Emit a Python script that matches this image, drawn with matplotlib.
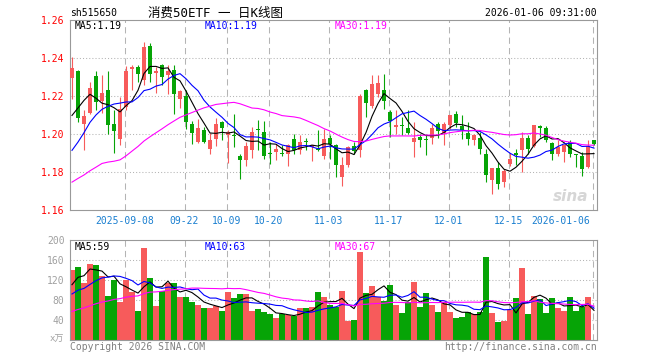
import numpy as np
import pandas as pd
import matplotlib
matplotlib.use('Agg')
import matplotlib.pyplot as plt

# ---- datos (sh515650, 2025-08-26 .. 2026-01-06) ----
OPEN = [1.2297, 1.2330, 1.2054, 1.2112, 1.2307, 1.2174, 1.2233, 1.2054, 1.1976, 1.2142,
        1.2344, 1.2353, 1.2286, 1.2461, 1.2321, 1.2361, 1.2309, 1.2339, 1.2186, 1.2198,
        1.2054, 1.1958, 1.2023, 1.1923, 1.1976, 1.2063, 1.1993, 1.1991, 1.1883, 1.1862,
        1.1914, 1.2023, 1.2011, 1.1900, 1.1905, 1.1900, 1.1896, 1.1976, 1.1918, 1.1960,
        1.1932, 1.1918, 1.1883, 1.1981, 1.1940, 1.1774, 1.1835, 1.1935, 1.1918, 1.2230,
        1.2146, 1.2209, 1.2233, 1.2116, 1.2037, 1.2044, 1.2033, 1.1958, 1.1984, 1.1976,
        1.1981, 1.2054, 1.2005, 1.2046, 1.2107, 1.2040, 1.2005, 1.1967, 1.1981, 1.1893,
        1.1756, 1.1823, 1.1747, 1.1844, 1.1900, 1.1914, 1.1981, 1.1935, 1.2042, 1.2033,
        1.1953, 1.1897, 1.1905, 1.1958, 1.1893, 1.1883, 1.1826, 1.1967]
HIGH = [1.2405, 1.2339, 1.2125, 1.2274, 1.2330, 1.2309, 1.2330, 1.2125, 1.2195, 1.2356,
        1.2361, 1.2361, 1.2484, 1.2481, 1.2353, 1.2370, 1.2361, 1.2361, 1.2230, 1.2230,
        1.2068, 1.2081, 1.2037, 1.2005, 1.2086, 1.2068, 1.2019, 1.2107, 1.1897, 1.1958,
        1.2037, 1.2075, 1.2068, 1.1958, 1.1949, 1.1940, 1.1949, 1.2002, 1.1993, 1.1981,
        1.1944, 1.2019, 1.2028, 1.1993, 1.1949, 1.1879, 1.1935, 1.1958, 1.2212, 1.2239,
        1.2309, 1.2309, 1.2314, 1.2125, 1.2125, 1.2090, 1.2125, 1.2063, 1.2002, 1.2002,
        1.2051, 1.2063, 1.2063, 1.2098, 1.2121, 1.2098, 1.2063, 1.2002, 1.2011, 1.1923,
        1.1823, 1.1853, 1.1818, 1.1900, 1.1923, 1.2011, 1.1993, 1.2046, 1.2046, 1.2040,
        1.1958, 1.1967, 1.1949, 1.1967, 1.1897, 1.1905, 1.1967, 1.1970]
LOW = [1.2186, 1.2063, 1.1918, 1.2107, 1.2125, 1.2111, 1.2002, 1.1900, 1.1940, 1.2125,
       1.2230, 1.2274, 1.2256, 1.2274, 1.2216, 1.2256, 1.2212, 1.2107, 1.2139, 1.2028,
       1.1949, 1.1953, 1.1953, 1.1897, 1.1935, 1.1967, 1.1847, 1.1932, 1.1765, 1.1830,
       1.1876, 1.1914, 1.1870, 1.1844, 1.1862, 1.1883, 1.1830, 1.1897, 1.1897, 1.1914,
       1.1858, 1.1909, 1.1870, 1.1870, 1.1774, 1.1725, 1.1826, 1.1897, 1.1879, 1.2090,
       1.2139, 1.2195, 1.2133, 1.1984, 1.2002, 1.1993, 1.2002, 1.1879, 1.1932, 1.1888,
       1.1949, 1.1981, 1.1940, 1.2028, 1.2037, 1.1976, 1.1940, 1.1940, 1.1897, 1.1748,
       1.1686, 1.1712, 1.1721, 1.1830, 1.1835, 1.1800, 1.1897, 1.1932, 1.1984, 1.1958,
       1.1862, 1.1883, 1.1853, 1.1879, 1.1826, 1.1777, 1.1823, 1.1940]
CLOSE = [1.2349, 1.2086, 1.2095, 1.2244, 1.2168, 1.2218, 1.2046, 1.2016, 1.2133, 1.2330,
         1.2353, 1.2318, 1.2458, 1.2318, 1.2332, 1.2300, 1.2332, 1.2209, 1.2226, 1.2063,
         1.2005, 1.2033, 1.1958, 1.1967, 1.2054, 1.2033, 1.2011, 1.1988, 1.1861, 1.1935,
         1.2011, 1.2019, 1.1883, 1.1896, 1.1923, 1.1896, 1.1940, 1.1914, 1.1958, 1.1956,
         1.1940, 1.1914, 1.1976, 1.1946, 1.1835, 1.1835, 1.1932, 1.1911, 1.2198, 1.2163,
         1.2261, 1.2268, 1.2174, 1.2068, 1.2046, 1.2040, 1.2005, 1.1981, 1.1967, 1.1967,
         1.2033, 1.2016, 1.2054, 1.2098, 1.2058, 1.2019, 1.1976, 1.1993, 1.1923, 1.1783,
         1.1823, 1.1739, 1.1805, 1.1870, 1.1888, 1.1981, 1.1923, 1.2046, 1.2033, 1.1970,
         1.1897, 1.1932, 1.1940, 1.1897, 1.1888, 1.1818, 1.1935, 1.1946]
VOL = [140.6, 146.6, 113.3, 151.3, 149.3, 128.6, 88.6, 120.0, 75.3, 120.0,
       95.3, 58.6, 183.3, 123.3, 68.6, 98.6, 114.6, 113.3, 85.3, 85.3,
       75.3, 70.6, 63.3, 63.3, 68.6, 58.6, 96.6, 83.3, 91.3, 91.3,
       58.6, 61.3, 56.6, 51.3, 43.3, 52.0, 50.0, 48.0, 64.6, 64.6,
       66.6, 96.6, 85.3, 70.6, 65.3, 98.6, 38.6, 40.6, 175.3, 93.3,
       108.6, 85.3, 78.6, 110.6, 70.6, 53.3, 75.3, 115.3, 65.3, 93.3,
       70.6, 56.6, 75.3, 55.3, 43.3, 46.6, 56.6, 52.0, 56.6, 166.6,
       53.3, 35.3, 38.6, 60.0, 83.3, 143.3, 51.3, 88.6, 82.0, 53.3,
       83.3, 63.3, 58.6, 85.3, 58.6, 65.3, 86.6, 0.6]
# sesiones anteriores a la ventana, solo para calcular MA5/MA10/MA30
PREV_CLOSE = [1.150, 1.155, 1.158, 1.160, 1.163, 1.183, 1.188, 1.192, 1.170, 1.160,
              1.158, 1.160, 1.165, 1.170, 1.168, 1.168, 1.162, 1.165, 1.168, 1.163,
              1.165, 1.160, 1.170, 1.178, 1.192, 1.189, 1.1895, 1.2084, 1.2271]
PREV_VOL = [25, 22, 24, 26, 25, 27, 26, 28, 34, 40, 36, 42, 38, 55, 62,
            58, 66, 60, 63, 35, 70, 78, 72, 74, 73, 73, 96.8, 84.3, 158.3]
DATE_IDX = [9, 19, 26, 33, 43, 53, 63, 73, 87]
DATE_LBL = ['2025-09-08', '09-22', '10-09', '10-20', '11-03', '11-17', '12-01', '12-15', '2026-01-06']
PRICE_TICKS = [1.16, 1.18, 1.20, 1.22, 1.24, 1.26]
VOL_TICKS = [40, 80, 120, 160, 200]

W, H = 660, 360
UP, DOWN = '#f75b5b', '#06a406'
MA_COL = {5: 'black', 10: '#0000ff', 30: '#ff00ff'}
GRID = '#b4b4b4'
MONO = 'DejaVu Sans Mono'


def medias(prev, vals, n):
    s = pd.Series(list(prev) + list(vals))
    return s.rolling(n).mean().values[len(prev):]


def caja(ax):
    for sp in ax.spines.values():
        sp.set_color('#999999'); sp.set_linewidth(0.8)
    ax.tick_params(length=0)
    ax.set_xlim(-1 / 3, 87.5)
    for i in DATE_IDX:
        ax.axvline(i - 0.25, color=GRID, lw=0.75, ls=(0, (6, 4)), zorder=0)


o, h, l, c, v = map(np.array, (OPEN, HIGH, LOW, CLOSE, VOL))
x = np.arange(len(c))
sube = c >= o
col = np.where(sube, UP, DOWN)

fig = plt.figure(figsize=(W / 100, H / 100), dpi=100, facecolor='white')
axp = fig.add_axes([70 / W, 1 - 210 / H, 527 / W, 190 / H])
axv = fig.add_axes([70 / W, 1 - 340 / H, 527 / W, 100 / H])

# --- precio ---
caja(axp)
axp.set_ylim(1.16, 1.26)
for y in PRICE_TICKS[1:-1]:
    axp.axhline(y, color=GRID, lw=0.75, ls=(0, (1, 2)), zorder=0)
axp.vlines(x, l, h, colors=col, lw=0.8, zorder=2)
cuerpo = np.maximum(np.abs(c - o), 0.0005)
axp.bar(x, cuerpo, bottom=np.minimum(o, c), width=0.68, color=col, lw=0, zorder=3)
ma_p = {n: medias(PREV_CLOSE, CLOSE, n) for n in (5, 10, 30)}
for n, m in ma_p.items():
    axp.plot(x, m, color=MA_COL[n], lw=0.8, zorder=4)
axp.set_yticks(PRICE_TICKS)
axp.set_yticklabels([f'{t:.2f}' for t in PRICE_TICKS], color='red', family=MONO, fontsize=7)
axp.tick_params(axis='y', pad=4)
axp.set_xticks([])
tr = axp.get_xaxis_transform()
for i, lb in zip(DATE_IDX, DATE_LBL):
    ha = 'right' if i == DATE_IDX[-1] else 'center'
    xx = i - 0.6 if ha == 'right' else i - 0.25
    axp.text(xx, -0.058, lb, transform=tr, ha=ha, va='center', color='#1a7fd0',
             family=MONO, fontsize=7)
axp.text(0.983, 0.07, 'sina', transform=axp.transAxes, ha='right', va='center',
         fontsize=11, style='italic', weight='bold', color='#d6d6d6', zorder=1)

# --- volumen ---
caja(axv)
axv.set_ylim(0, 200)
for y in VOL_TICKS[:-1]:
    axv.axhline(y, color=GRID, lw=0.75, ls=(0, (1, 2)), zorder=0)
axv.bar(x, v, width=0.84, color=col, lw=0, zorder=2)
ma_v = {n: medias(PREV_VOL, VOL, n) for n in (5, 10, 30)}
for n, m in ma_v.items():
    axv.plot(x, m, color=MA_COL[n], lw=0.8, zorder=4)
axv.set_yticks(VOL_TICKS)
axv.set_yticklabels([str(t) for t in VOL_TICKS], color='#a0a0a0', family=MONO, fontsize=7)
axv.tick_params(axis='y', pad=4)
axv.set_xticks([])


def ftxt(px, py, s, **kw):
    kw.setdefault('family', MONO)
    kw.setdefault('fontsize', 7)
    kw.setdefault('va', 'center')
    fig.text(px / W, 1 - py / H, s, **kw)


ftxt(70, 13, 'sh515650')
ftxt(216, 13, '消费50ETF 一 日K线图', ha='center', fontsize=9,
     family=[MONO, 'Noto Sans CJK SC'])
ftxt(597, 13, '2026-01-06 09:31:00', ha='right')
ftxt(75, 26, f'MA5:{ma_p[5][-1]:.2f}', color=MA_COL[5])
ftxt(205, 26, f'MA10:{ma_p[10][-1]:.2f}', color=MA_COL[10])
ftxt(335, 26, f'MA30:{ma_p[30][-1]:.2f}', color=MA_COL[30])
ftxt(75, 246.5, f'MA5:{int(ma_v[5][-1])}', color=MA_COL[5])
ftxt(205, 246.5, f'MA10:{int(ma_v[10][-1])}', color=MA_COL[10])
ftxt(335, 246.5, f'MA30:{int(ma_v[30][-1])}', color=MA_COL[30])
ftxt(64, 339, 'x万', ha='right', color='#a0a0a0', fontsize=6.5,
     family=[MONO, 'Noto Sans CJK SC'])
ftxt(70, 347, 'Copyright 2026 SINA.COM', color='#808080')
ftxt(597, 347, 'http://finance.sina.com.cn', ha='right', color='#808080')

fig.savefig('out.png', dpi=100, facecolor='white')
